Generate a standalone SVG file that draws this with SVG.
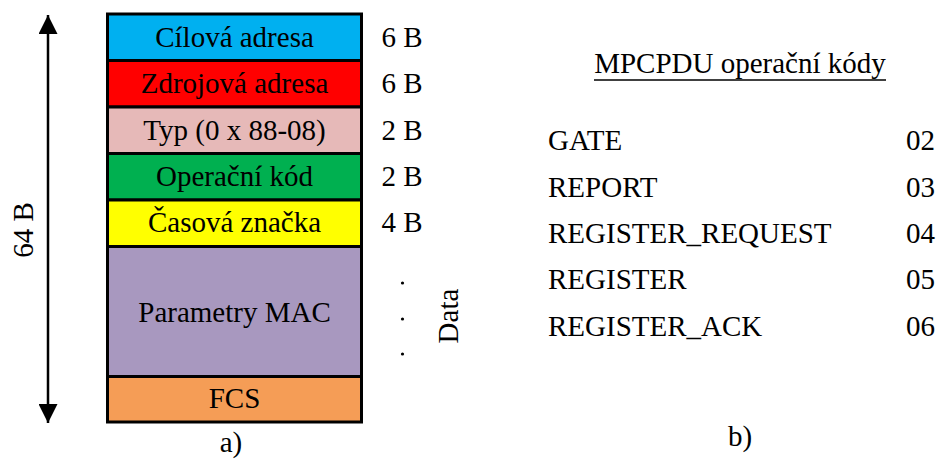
<svg xmlns="http://www.w3.org/2000/svg" width="938" height="459" viewBox="0 0 938 459">
  <style>
    text { font-family: "Liberation Serif", "Times New Roman", serif; fill: #000; font-size: 29px; }
    .lbl { text-anchor: middle; }
    .num { text-anchor: end; }
    .cell { stroke: #000; stroke-width: 3; }
  </style>
  <defs>
    <marker id="head" viewBox="0 0 10 10" refX="10" refY="5" markerWidth="19" markerHeight="19" markerUnits="userSpaceOnUse" orient="auto">
      <path d="M0,0 L10,5 L0,10 Z" fill="#000"/>
    </marker>
  </defs>

  <!-- total length arrow -->
  <g id="connectors">
    <line x1="48" y1="36" x2="48" y2="15" stroke="#000" stroke-width="2.5" marker-end="url(#head)"/>
    <line x1="48" y1="36" x2="48" y2="423" stroke="#000" stroke-width="2.5" marker-end="url(#head)"/>
  </g>
  <text class="lbl" transform="translate(33,230) rotate(-90)">64 B</text>

  <!-- frame fields -->
  <g id="dest">
    <rect class="cell" x="107.5" y="14" width="254" height="46.5" fill="#00B0F0"/>
    <text class="lbl" x="234.5" y="47">Cílová adresa</text>
    <text class="lbl" x="402" y="47">6 B</text>
  </g>
  <g id="src">
    <rect class="cell" x="107.5" y="60.5" width="254" height="46.5" fill="#FF0000"/>
    <text class="lbl" x="234.5" y="93">Zdrojová adresa</text>
    <text class="lbl" x="402" y="93">6 B</text>
  </g>
  <g id="type">
    <rect class="cell" x="107.5" y="107" width="254" height="46.5" fill="#E6B9B8"/>
    <text class="lbl" x="234.5" y="140">Typ (0 x 88-08)</text>
    <text class="lbl" x="402" y="140">2 B</text>
  </g>
  <g id="opcode">
    <rect class="cell" x="107.5" y="153.5" width="254" height="46.5" fill="#00B050"/>
    <text class="lbl" x="234.5" y="186">Operační kód</text>
    <text class="lbl" x="402" y="186">2 B</text>
  </g>
  <g id="timestamp">
    <rect class="cell" x="107.5" y="200" width="254" height="46.5" fill="#FFFF00"/>
    <text class="lbl" x="234.5" y="232">Časová značka</text>
    <text class="lbl" x="402" y="232">4 B</text>
  </g>
  <g id="params">
    <rect class="cell" x="107.5" y="246.5" width="254" height="130" fill="#A898BF"/>
    <text class="lbl" x="234.5" y="322">Parametry MAC</text>
  </g>
  <g id="fcs">
    <rect class="cell" x="107.5" y="376.5" width="254" height="45.5" fill="#F59D56"/>
    <text class="lbl" x="234.5" y="408">FCS</text>
  </g>

  <!-- data continuation dots -->
  <g id="dots" fill="#000">
    <circle cx="402.5" cy="283" r="1.6"/>
    <circle cx="402.5" cy="319" r="1.6"/>
    <circle cx="402.5" cy="354" r="1.6"/>
  </g>
  <text class="lbl" transform="translate(458,316) rotate(-90)">Data</text>

  <text class="lbl" x="231" y="452">a)</text>

  <!-- opcode table -->
  <g id="table">
    <text class="lbl" x="740" y="73">MPCPDU operační kódy</text>
    <line x1="594" y1="80" x2="886" y2="80" stroke="#000" stroke-width="1.3"/>
    <text x="548" y="150">GATE</text>
    <text class="num" x="935" y="150">02</text>
    <text x="548" y="197">REPORT</text>
    <text class="num" x="935" y="197">03</text>
    <text x="548" y="243">REGISTER_REQUEST</text>
    <text class="num" x="935" y="243">04</text>
    <text x="548" y="289">REGISTER</text>
    <text class="num" x="935" y="289">05</text>
    <text x="548" y="336">REGISTER_ACK</text>
    <text class="num" x="935" y="336">06</text>
  </g>

  <text class="lbl" x="740" y="446">b)</text>
</svg>
